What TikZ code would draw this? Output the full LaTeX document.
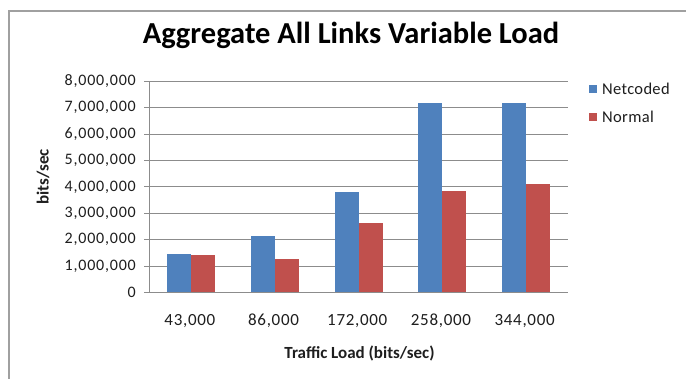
\documentclass[tikz,border=0pt]{standalone}
\usepackage{fontspec}
\setmainfont{Carlito}
\definecolor{netblue}{HTML}{4F81BD}
\definecolor{normred}{HTML}{C0504D}
\definecolor{gridgray}{HTML}{8C8C8C}
\definecolor{framegray}{HTML}{A0A0A0}
\definecolor{inkgray}{HTML}{1E1E1E}
\begin{document}
\begin{tikzpicture}[x=1pt,y=-1pt,
  gridline/.style={draw=gridgray, line width=0.9pt},
  axisline/.style={draw=gridgray, line width=1pt},
  ticklabel/.style={text=inkgray, inner sep=0pt, font=\fontsize{16}{18}\selectfont\addfontfeature{LetterSpace=5}},
  catlabel/.style={text=inkgray, inner sep=0pt, font=\fontsize{17}{20}\selectfont\addfontfeature{LetterSpace=4}},
  axistitle/.style={text=inkgray, inner sep=0pt, font=\bfseries\fontsize{17}{20}\selectfont},
  legendtext/.style={text=inkgray, inner sep=0pt, anchor=west, font=\fontsize{16.5}{19}\selectfont\addfontfeature{LetterSpace=2}},
]
\useasboundingbox (0,0) rectangle (686,379);
\fill[white] (0,0) rectangle (686,379);

% chart frame (left and top edges)
\draw[framegray, line width=1.3pt] (9,379) -- (9,11) -- (686,11);

% title
\node[text=black, inner sep=0pt, font=\bfseries\fontsize{30.5}{36}\selectfont] (title) at (351,35) {Aggregate All Links Variable Load};

% horizontal gridlines, ticks and value labels
\foreach \k/\lab in {0/0, 1/{1,000,000}, 2/{2,000,000}, 3/{3,000,000}, 4/{4,000,000},
                     5/{5,000,000}, 6/{6,000,000}, 7/{7,000,000}, 8/{8,000,000}} {
  \pgfmathsetmacro{\yy}{292.5-26.4*\k}
  \ifnum\k>0 \draw[gridline] (149.5,\yy) -- (568,\yy); \fi
  \draw[axisline] (144,\yy) -- (149.5,\yy);
  \node[ticklabel, anchor=east] (ylab\k) at (136,\yy) {\lab};
}

% bars: Netcoded (blue) and Normal (red) per traffic load
\foreach \i/\a/\b/\lab in {0/1.47/1.42/{43,000}, 1/2.15/1.25/{86,000}, 2/3.82/2.64/{172,000},
                           3/7.16/3.86/{258,000}, 4/7.16/4.10/{344,000}} {
  \pgfmathsetmacro{\cx}{149.5+83.7*(\i+0.5)}
  \pgfmathsetmacro{\ya}{292.5-26.4*\a}
  \pgfmathsetmacro{\yb}{292.5-26.4*\b}
  \fill[netblue] (\cx-24,\ya) rectangle (\cx,292.5);
  \fill[normred] (\cx,\yb) rectangle (\cx+24,292.5);
  \node[catlabel] (xlab\i) at (\cx-1.5,321) {\lab};
}

% axes
\draw[axisline] (149.5,81.3) -- (149.5,292.5) -- (568,292.5);

% axis titles
\node[axistitle] (xtitle) at (359.5,353) {Traffic Load (bits/sec)};
\node[axistitle, rotate=90] (ytitle) at (43,177) {bits/sec};

% legend
\fill[netblue] (589,85) rectangle (597,93);
\node[legendtext] (legnet) at (602,89) {Netcoded};
\fill[normred] (589,113) rectangle (597,121);
\node[legendtext] (legnorm) at (602,117) {Normal};
\end{tikzpicture}
\end{document}
